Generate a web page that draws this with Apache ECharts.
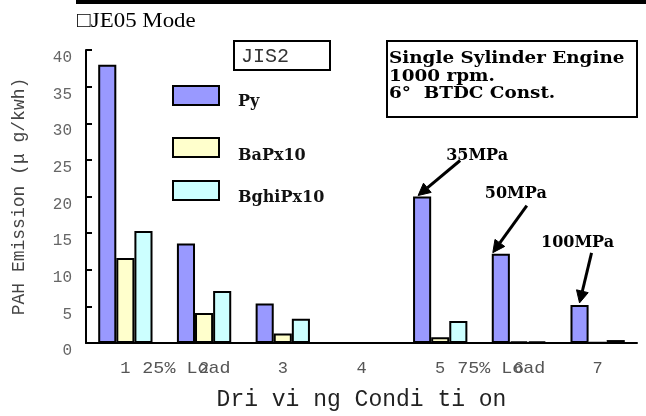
<!DOCTYPE html>
<html>
<head>
<meta charset="utf-8">
<script src="https://cdn.jsdelivr.net/npm/echarts@6/dist/echarts.min.js"></script>
<style>
  html, body { margin: 0; padding: 0; background: #fff; }
  #chart { width: 646px; height: 416px; }
</style>
</head>
<body>
<div id="chart"></div>
<script>
// Driving conditions on the x axis
const conditions = ['1', '2', '3', '4', '5', '6', '7'];

// PAH emission per condition (μg/kWh); condition 4 was not measured
const pyValues    = [38.0, 13.6, 5.4, '-', 20.0, 12.2, 5.2];
const bapValues   = [11.6, 4.1, 1.3, '-', 0.8, 0.2, 0.1];
const bghipValues = [15.3, 7.1, 3.3, '-', 3.0, 0.2, 0.4];

const seriesNames  = ['Py', 'BaPx10', 'BghiPx10'];
const seriesColors = ['#9999ff', '#ffffcc', '#ccffff'];

// Y axis range
const yMin = 0, yMax = 40, yStep = 5;

// Injection pressure notes pointing at the Py bars
const pressureConds  = ['5', '6', '7'];
const pressureLabels = ['35MPa', '50MPa', '100MPa'];

// Load groups written along the category axis
const loadConds  = ['1', '5'];
const loadLabels = ['25% Load', '75% Load'];

const titleText = '\u25A1JE05 Mode';
const standardText = 'JIS2';
const engineLines = ['Single Sylinder Engine', '1000 rpm.', '6\u00B0  BTDC Const.'];

const mono = '"Liberation Mono", "DejaVu Sans Mono", monospace';
const serif = '"DejaVu Serif", "Liberation Serif", serif';

const chart = echarts.init(document.getElementById('chart'), null, { renderer: 'canvas' });

const barCategoryGap = '31%';

function barSeries(name, values, color) {
  return {
    name: name,
    type: 'bar',
    data: values,
    barGap: '0%',
    barCategoryGap: barCategoryGap,
    itemStyle: { color: color, borderColor: '#000', borderWidth: 2 },
    emphasis: { disabled: true },
    animation: false
  };
}

// one legend per series so each entry can sit at its own height
function legendAt(name, top, textDrop) {
  return {
    data: [name],
    left: 172,
    top: top,
    padding: 0,
    itemWidth: 46,
    itemHeight: 19,
    icon: 'rect',
    selectedMode: false,
    formatter: '{t|{name}}',
    textStyle: {
      rich: {
        t: {
          fontFamily: serif,
          fontWeight: 'bold',
          fontSize: 16,
          color: '#111',
          padding: [textDrop * 2, 0, 0, 14]
        }
      }
    }
  };
}

const option = {
  backgroundColor: '#fff',
  animation: false,
  grid: { left: 86, right: 9, top: 50, bottom: 73, containLabel: false },
  legend: [
    legendAt(seriesNames[0], 85, 6),
    legendAt(seriesNames[1], 137, 8),
    legendAt(seriesNames[2], 180, 7)
  ],
  xAxis: {
    type: 'category',
    data: conditions,
    name: 'Dri vi ng Condi ti on',
    nameLocation: 'middle',
    nameGap: 45,
    nameTextStyle: { fontFamily: mono, fontSize: 23, color: '#222' },
    axisLine: { lineStyle: { color: '#000', width: 2 } },
    axisTick: { inside: true, length: 6, lineStyle: { color: '#000', width: 2 } },
    axisLabel: { fontFamily: mono, fontSize: 17, color: '#555', margin: 17 },
    splitLine: { show: false }
  },
  yAxis: {
    type: 'value',
    min: yMin,
    max: yMax,
    interval: yStep,
    name: 'PAH Emission (\u03BC g/kwh)',
    nameLocation: 'middle',
    nameRotate: 90,
    nameGap: 58,
    nameTextStyle: { fontFamily: mono, fontSize: 18, color: '#444' },
    axisLine: { show: true, lineStyle: { color: '#000', width: 2 } },
    axisTick: { show: true, inside: true, length: 6, lineStyle: { color: '#000', width: 2 } },
    axisLabel: { fontFamily: mono, fontSize: 16, color: '#666', margin: 14, verticalAlign: 'top' },
    splitLine: { show: false }
  },
  series: [
    barSeries(seriesNames[0], pyValues, seriesColors[0]),
    barSeries(seriesNames[1], bapValues, seriesColors[1]),
    barSeries(seriesNames[2], bghipValues, seriesColors[2])
  ]
};

chart.setOption(option);

// ---- overlays placed from the chart's own coordinate system ----
function toPx(cat, val) {
  return chart.convertToPixel({ gridIndex: 0 }, [cat, val]);
}

const band = toPx(conditions[1], 0)[0] - toPx(conditions[0], 0)[0];
const barW = band * (1 - parseFloat(barCategoryGap) / 100) / 3;

function textEl(x, y, text, font, fill, align, scaleX) {
  return {
    type: 'text',
    x: x, y: y,
    scaleX: scaleX || 1,
    z: 100,
    style: {
      text: text, font: font, fill: fill,
      align: align || 'left', verticalAlign: 'middle',
      textAlign: align || 'left', textVerticalAlign: 'middle'
    }
  };
}

function arrowEls(x1, y1, x2, y2) {
  const ang = Math.atan2(y2 - y1, x2 - x1);
  const L = 12, W = 6;
  const bx = x2 - L * Math.cos(ang), by = y2 - L * Math.sin(ang);
  const nx = -Math.sin(ang), ny = Math.cos(ang);
  return [
    { type: 'line', z: 100, shape: { x1: x1, y1: y1, x2: bx, y2: by },
      style: { stroke: '#000', lineWidth: 3 } },
    { type: 'polygon', z: 100,
      shape: { points: [[x2, y2], [bx + nx * W, by + ny * W], [bx - nx * W, by - ny * W]] },
      style: { fill: '#000', stroke: '#000', lineWidth: 1 } }
  ];
}

const graphics = [];

// heading rule and title
graphics.push({ type: 'rect', z: 100, shape: { x: 76, y: 0, width: 570, height: 4 }, style: { fill: '#000' } });
graphics.push(textEl(77, 21, titleText, '22px "Liberation Serif", "DejaVu Serif", serif', '#000', 'left', 1.04));

// standard box
graphics.push({ type: 'rect', z: 100, shape: { x: 234, y: 41, width: 96, height: 29 },
  style: { fill: 'none', stroke: '#000', lineWidth: 2 } });
graphics.push(textEl(241, 57, standardText, '20px ' + mono, '#333'));

// engine condition box
graphics.push({ type: 'rect', z: 100, shape: { x: 387, y: 41, width: 250, height: 76 },
  style: { fill: 'none', stroke: '#000', lineWidth: 2 } });
engineLines.forEach(function (line, i) {
  graphics.push(textEl(389, 59 + i * 17.5, line, 'bold 17px ' + serif, '#000', 'left', 1.08));
});

// load group notes on the category axis
const axisY = toPx(conditions[0], 0)[1];
loadConds.forEach(function (c, i) {
  const x = toPx(c, 0)[0] + 17;
  graphics.push(textEl(x, axisY + 25, loadLabels[i], '17px ' + mono, '#555', 'left', 1.08));
});

// pressure notes with arrows to the Py bar tops
const noteOffsets = [
  { text: [55, -41], start: [38, -36], end: [-4, -1] },
  { text: [15, -60], start: [26, -48], end: [-8, -1] },
  { text: [-2, -62], start: [12, -52], end: [0, -2] }
];
pressureConds.forEach(function (c, i) {
  const ci = conditions.indexOf(c);
  const p = toPx(c, pyValues[ci]);
  const cx = p[0] - barW;           // centre of the Py bar in its group
  const ty = p[1];
  const o = noteOffsets[i];
  graphics.push(textEl(cx + o.text[0], ty + o.text[1], pressureLabels[i], 'bold 16px ' + serif, '#000', 'center'));
  arrowEls(cx + o.start[0], ty + o.start[1], cx + o.end[0], ty + o.end[1]).forEach(function (g) { graphics.push(g); });
});

chart.setOption({ graphic: graphics });
</script>
</body>
</html>
